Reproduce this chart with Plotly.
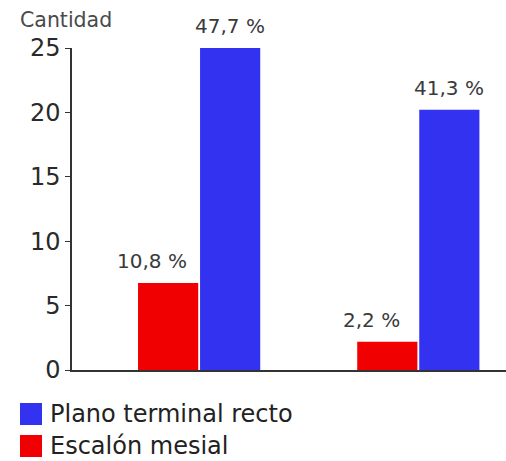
import plotly.graph_objects as go

# Data
groups = [0, 1]
series_names = ["Escalón mesial", "Plano terminal recto"]
escalon_values = [6.75, 2.2]
plano_values = [25.0, 20.2]
escalon_labels = ["10,8 %", "2,2 %"]
plano_labels = ["47,7 %", "41,3 %"]
y_ticks = [0, 5, 10, 15, 20, 25]
y_title = "Cantidad"

RED = "#f00000"
BLUE = "#3232f0"
FONT = "DejaVu Sans"
BARGAP = 0.434
BARGROUPGAP = 0.03

fig = go.Figure()
fig.add_trace(go.Bar(x=groups, y=escalon_values, name=series_names[0],
                     marker=dict(color=RED, line=dict(width=0)), showlegend=False))
fig.add_trace(go.Bar(x=groups, y=plano_values, name=series_names[1],
                     marker=dict(color=BLUE, line=dict(width=0)), showlegend=False))

# value labels above bars (offset of each bar inside its group)
half = (1 - BARGAP) / 4
for gx, v, t in zip(groups, escalon_values, escalon_labels):
    fig.add_annotation(x=gx - half, y=v, text=t, xref="x", yref="y",
                       showarrow=False, yanchor="bottom", xshift=-16, yshift=8,
                       font=dict(family=FONT, size=20, color="#3a3a3a"))
for gx, v, t in zip(groups, plano_values, plano_labels):
    fig.add_annotation(x=gx + half, y=v, text=t, xref="x", yref="y",
                       showarrow=False, yanchor="bottom", yshift=8,
                       font=dict(family=FONT, size=20, color="#3a3a3a"))

# axis title "Cantidad"
fig.add_annotation(x=0, y=1, xref="paper", yref="paper", xanchor="right", yanchor="bottom",
                   xshift=42, yshift=14, text=y_title, showarrow=False,
                   font=dict(family=FONT, size=20.5, color="#4a4a4a"))

# custom legend (blue first, then red)
legend_items = [(series_names[1], BLUE), (series_names[0], RED)]
for i, (name, col) in enumerate(legend_items):
    yc = 414 + i * 32  # pixel center
    fig.add_shape(type="rect", xref="paper", yref="paper",
                  x0=(20 - 72) / 434, x1=(42 - 72) / 434,
                  y0=(370 - (yc + 11)) / 322, y1=(370 - (yc - 11)) / 322,
                  fillcolor=col, line=dict(width=0))
    fig.add_annotation(x=(48 - 72) / 434, y=(370 - yc) / 322, xref="paper", yref="paper",
                       xanchor="left", yanchor="middle", text=name, showarrow=False,
                       font=dict(family=FONT, size=24, color="#222222"))

fig.update_layout(
    width=506, height=461,
    margin=dict(l=72, r=0, t=48, b=91),
    paper_bgcolor="white", plot_bgcolor="white",
    barmode="group", bargap=BARGAP, bargroupgap=BARGROUPGAP,
    font=dict(family=FONT, color="#333333"),
)
fig.update_xaxes(range=[-0.58, 1.40], showticklabels=False, ticks="", showgrid=False,
                 zeroline=False, showline=True, linecolor="#333333", linewidth=1.5)
fig.update_yaxes(range=[0, 25], tickvals=y_ticks, ticks="outside", ticklen=5,
                 tickcolor="#333333", showgrid=False, zeroline=False, showline=True,
                 linecolor="#333333", linewidth=1.5,
                 tickfont=dict(family=FONT, size=24, color="#2a2a2a"))

fig.write_html("out.html")
